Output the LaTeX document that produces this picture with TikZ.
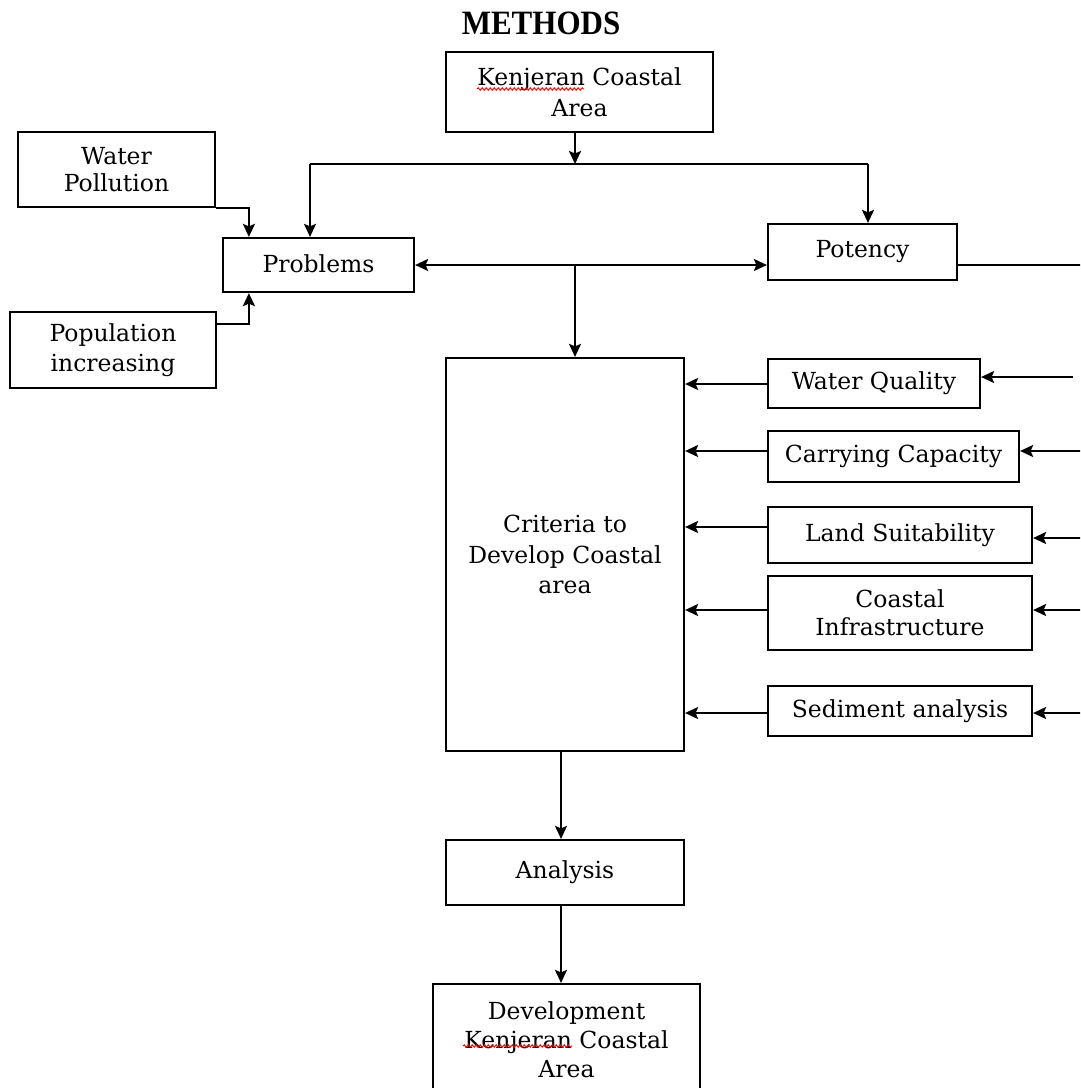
\documentclass[tikz,border=0pt]{standalone}
\usepackage{fontspec}
\setmainfont{DejaVu Serif}
\newfontfamily\titlefont{Liberation Serif}
\usetikzlibrary{arrows.meta,decorations.pathmorphing,calc}
\begin{document}
\begin{tikzpicture}[x=1pt,y=-1pt,
 box/.style={draw,line width=2.2pt,inner sep=0pt,align=center,font=\fontsize{23.5}{29}\selectfont},
 arr/.style={line width=2.2pt,-{Stealth[length=13pt,width=12pt,inset=2.5pt]}},
 darr/.style={line width=2.2pt,{Stealth[length=13pt,width=12pt,inset=2.5pt]}-{Stealth[length=13pt,width=12pt,inset=2.5pt]}},
 ln/.style={line width=2.2pt},
 squig/.style={red,line width=0.9pt,decorate,decoration={snake,segment length=4pt,amplitude=1.3pt}}]
\useasboundingbox (0,0) rectangle (1080,1088);
\clip (0,0) rectangle (1080,1088);

\node[font=\titlefont\bfseries\fontsize{31}{31}\selectfont] (title) at (541,23) {\scalebox{1}[1.1]{METHODS}};

\node[box,minimum width=267,minimum height=80,font=\fontsize{23.5}{31}\selectfont] (ken) at (579.5,92) {Kenjeran Coastal\\Area};
\node[box,minimum width=197,minimum height=75,font=\fontsize{23.5}{27}\selectfont] (wp) at (116.5,169.5) {Water\\Pollution};
\node[box,minimum width=206,minimum height=76,font=\fontsize{23.5}{30}\selectfont] (pop) at (113,350) {Population\\increasing};
\node[box,minimum width=191,minimum height=54] (prob) at (318.5,265) {\raisebox{2pt}{Problems}};
\node[box,minimum width=189,minimum height=56] (pot) at (862.5,252) {Potency};
\node[box,minimum width=238,minimum height=393,font=\fontsize{23.5}{30.5}\selectfont] (crit) at (565,554.5) {Criteria to\\Develop Coastal\\area};
\node[box,minimum width=212,minimum height=49] (wq) at (874,383.5) {Water Quality};
\node[box,minimum width=251,minimum height=51] (cc) at (893.5,456.5) {\raisebox{1pt}{Carrying Capacity}};
\node[box,minimum width=264,minimum height=56] (ls) at (900,535) {\raisebox{4pt}{Land Suitability}};
\node[box,minimum width=264,minimum height=74,font=\fontsize{23.5}{28}\selectfont] (ci) at (900,613) {Coastal\\Infrastructure};
\node[box,minimum width=264,minimum height=50] (sa) at (900,711) {Sediment analysis};
\node[box,minimum width=238,minimum height=65] (ana) at (565,872.5) {\raisebox{6pt}{Analysis}};
\node[box,minimum width=267,minimum height=111,font=\fontsize{23.5}{29}\selectfont] (dev) at (566.5,1039.5) {Development\\Kenjeran Coastal\\Area};

% spell-check marks
\draw[squig] (477,89) -- (584,89);
\draw[squig] (463,1046) -- (572,1046);

% top distribution
\coordinate (j1) at (575,164);
\coordinate (jl) at (310,164);
\coordinate (jr) at (868,164);
\draw[arr] (ken.south -| j1) -- (j1);
\draw[ln] (jl) -- (jr);
\draw[arr] (jl) -- (jl |- prob.north);
\draw[arr] (jr) -- (jr |- pot.north);

% side inputs to Problems
\coordinate (pin1) at ($(prob.north west)+(27,0)$);
\coordinate (pin2) at ($(prob.south west)+(27,0)$);
\draw[arr] (wp.south east) -| (pin1);
\draw[arr] ($(pop.north east)+(0,13)$) -| (pin2);

% Problems <-> Potency
\draw[darr] (prob.east) -- (prob.east -| pot.west);
\coordinate (jm) at (575,265);
\draw[arr] (jm) -- (jm |- crit.north);

% Potency out to the right
\coordinate (pr) at (1095,265);
\draw[ln] (pr -| pot.east) -- (pr);

% right-side arrows into criteria boxes
\coordinate (r1) at (1073,377);
\coordinate (r2) at (1095,451);
\coordinate (r3) at (1095,538);
\coordinate (r4) at (1095,610);
\coordinate (r5) at (1095,713);
\draw[arr] (r1) -- (r1 -| wq.east);
\draw[arr] (r2) -- (r2 -| cc.east);
\draw[arr] (r3) -- (r3 -| ls.east);
\draw[arr] (r4) -- (r4 -| ci.east);
\draw[arr] (r5) -- (r5 -| sa.east);

% criteria boxes into Criteria
\coordinate (l1) at (768,384);
\coordinate (l2) at (768,451);
\coordinate (l3) at (768,527);
\coordinate (l4) at (768,610);
\coordinate (l5) at (768,713);
\draw[arr] (l1 -| wq.west) -- (l1 -| crit.east);
\draw[arr] (l2 -| cc.west) -- (l2 -| crit.east);
\draw[arr] (l3 -| ls.west) -- (l3 -| crit.east);
\draw[arr] (l4 -| ci.west) -- (l4 -| crit.east);
\draw[arr] (l5 -| sa.west) -- (l5 -| crit.east);

% down the chain
\coordinate (c1) at ($(crit.south)+(-4,0)$);
\draw[arr] (c1) -- (c1 |- ana.north);
\coordinate (a1) at ($(ana.south)+(-4,0)$);
\draw[arr] (a1) -- (a1 |- dev.north);
\end{tikzpicture}
\end{document}
